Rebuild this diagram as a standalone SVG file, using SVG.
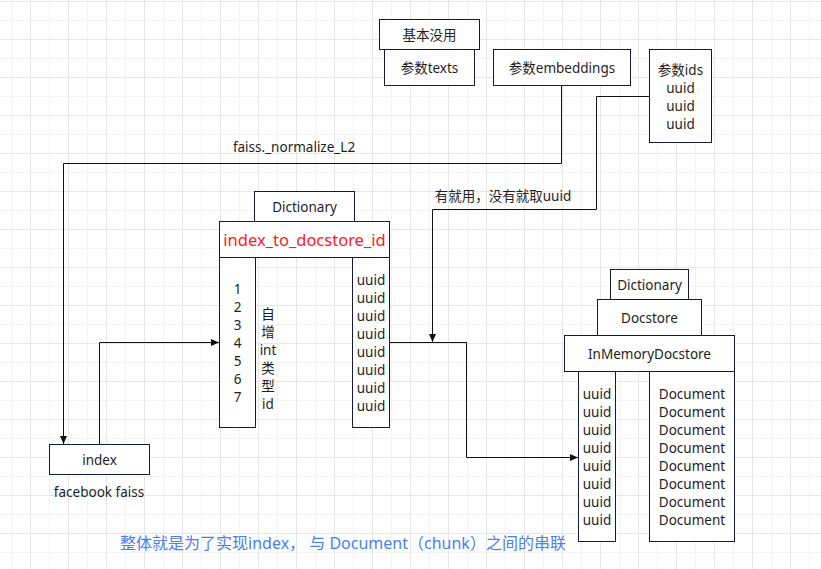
<svg xmlns="http://www.w3.org/2000/svg" width="821" height="569" viewBox="0 0 821 569">
<defs>
<pattern id="grid" x="30" y="1" width="38" height="38" patternUnits="userSpaceOnUse">
<path d="M19.5,0 V38 M0,19.5 H38" stroke="#f3f3f3" stroke-width="1" fill="none"/>
<path d="M0.5,0 V38 M0,0.5 H38" stroke="#e6e6e6" stroke-width="1" fill="none"/>
</pattern>
<marker id="arr" markerWidth="9" markerHeight="8" refX="8" refY="3.5" orient="auto" markerUnits="userSpaceOnUse">
<path d="M0,0 L8,3.5 L0,7 z" fill="#111"/>
</marker>
</defs>
<style>
.box{fill:#fff;stroke:#141a3c;stroke-width:1}
.t{font-family:"Noto Sans","Noto Sans CJK SC",sans-serif;font-size:13.5px;fill:#1e1e1e;text-anchor:middle;dominant-baseline:central}
.red{font-size:16.5px;fill:#ff1a1a}
.blue{font-size:16px;fill:#4a7ef2}
.edge{fill:none;stroke:#111;stroke-width:1}
</style>
<rect width="821" height="569" fill="#fff"/>
<rect width="821" height="569" fill="url(#grid)"/>

<g id="connectors">
<path class="edge" d="M561.5,85.5 V163.5 H63.5 V444" marker-end="url(#arr)"/>
<path class="edge" d="M649.5,96.5 H596.5 V209.5 H432.5 V342" marker-end="url(#arr)"/>
<path class="edge" d="M99.5,444.5 V342.5 H219" marker-end="url(#arr)"/>
<path class="edge" d="M389.5,342.5 H466.5 V457.5 H578" marker-end="url(#arr)"/>
<text class="t" x="294" y="147">faiss._normalize_L2</text>
<text class="t" x="503" y="196">有就用，没有就取uuid</text>
</g>

<g id="texts-node">
<rect class="box" x="384.5" y="49.5" width="90" height="36"/>
<text class="t" x="429.5" y="67.5">参数texts</text>
</g>
<g id="unused-node">
<rect class="box" x="379.5" y="19.5" width="100" height="30"/>
<text class="t" x="429.5" y="34.5">基本没用</text>
</g>
<g id="embeddings-node">
<rect class="box" x="493.5" y="49.5" width="137" height="36"/>
<text class="t" x="562" y="67.5">参数embeddings</text>
</g>
<g id="ids-node">
<rect class="box" x="649.5" y="49.5" width="62" height="93"/>
<text class="t" x="680.5" y="70">参数ids</text>
<text class="t" x="680.5" y="88">uuid</text>
<text class="t" x="680.5" y="106">uuid</text>
<text class="t" x="680.5" y="124">uuid</text>
</g>

<g id="dict1-node">
<rect class="box" x="254.5" y="191.5" width="100" height="30"/>
<text class="t" x="304.5" y="206.5">Dictionary</text>
</g>
<g id="index-to-docstore-node">
<rect class="box" x="219.5" y="221.5" width="170" height="36"/>
<text class="t red" x="304.5" y="239.5">index_to_docstore_id</text>
</g>
<g id="int-col-node">
<rect class="box" x="219.5" y="257.5" width="36" height="170"/>
<text class="t" x="237.5" y="289">1</text>
<text class="t" x="237.5" y="307">2</text>
<text class="t" x="237.5" y="325">3</text>
<text class="t" x="237.5" y="343">4</text>
<text class="t" x="237.5" y="361">5</text>
<text class="t" x="237.5" y="379">6</text>
<text class="t" x="237.5" y="397">7</text>
</g>
<g id="int-label">
<text class="t" x="268" y="314">自</text>
<text class="t" x="268" y="332">增</text>
<text class="t" x="268" y="350">int</text>
<text class="t" x="268" y="368">类</text>
<text class="t" x="268" y="386">型</text>
<text class="t" x="268" y="404">id</text>
</g>
<g id="uuid-col-node">
<rect class="box" x="352.5" y="257.5" width="37" height="170"/>
<text class="t" x="371" y="280">uuid</text>
<text class="t" x="371" y="298">uuid</text>
<text class="t" x="371" y="316">uuid</text>
<text class="t" x="371" y="334">uuid</text>
<text class="t" x="371" y="352">uuid</text>
<text class="t" x="371" y="370">uuid</text>
<text class="t" x="371" y="388">uuid</text>
<text class="t" x="371" y="406">uuid</text>
</g>

<g id="index-node">
<rect class="box" x="49.5" y="444.5" width="100" height="30"/>
<text class="t" x="99.5" y="459.5">index</text>
<text class="t" x="99" y="491.5">facebook faiss</text>
</g>

<g id="dict2-node">
<rect class="box" x="610.5" y="269.5" width="78" height="30"/>
<text class="t" x="649.5" y="284.5">Dictionary</text>
</g>
<g id="docstore-node">
<rect class="box" x="597.5" y="299.5" width="104" height="36"/>
<text class="t" x="649.5" y="317.5">Docstore</text>
</g>
<g id="inmemory-node">
<rect class="box" x="564.5" y="335.5" width="170" height="36"/>
<text class="t" x="649.5" y="353.5">InMemoryDocstore</text>
</g>
<g id="doc-uuid-col-node">
<rect class="box" x="578.5" y="371.5" width="37" height="170"/>
<text class="t" x="597" y="394">uuid</text>
<text class="t" x="597" y="412">uuid</text>
<text class="t" x="597" y="430">uuid</text>
<text class="t" x="597" y="448">uuid</text>
<text class="t" x="597" y="466">uuid</text>
<text class="t" x="597" y="484">uuid</text>
<text class="t" x="597" y="502">uuid</text>
<text class="t" x="597" y="520">uuid</text>
</g>
<g id="document-col-node">
<rect class="box" x="649.5" y="371.5" width="85" height="170"/>
<text class="t" x="692" y="394">Document</text>
<text class="t" x="692" y="412">Document</text>
<text class="t" x="692" y="430">Document</text>
<text class="t" x="692" y="448">Document</text>
<text class="t" x="692" y="466">Document</text>
<text class="t" x="692" y="484">Document</text>
<text class="t" x="692" y="502">Document</text>
<text class="t" x="692" y="520">Document</text>
</g>

<g id="caption">
<text class="t blue" x="343" y="543">整体就是为了实现index， 与 Document（chunk）之间的串联</text>
</g>
</svg>
